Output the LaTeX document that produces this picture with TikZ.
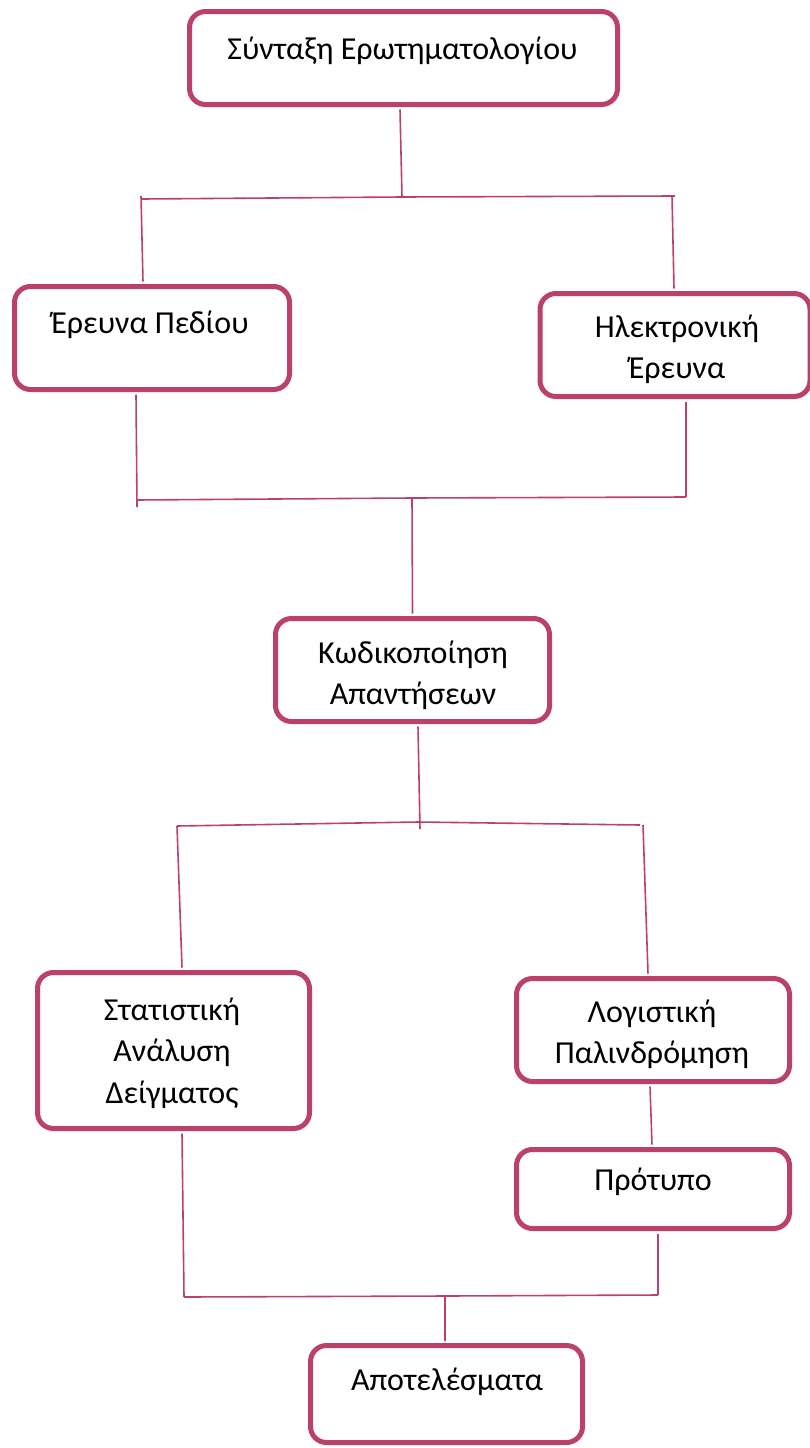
\documentclass[tikz,border=0pt]{standalone}
\usepackage{fontspec}
\setmainfont{Carlito}
\definecolor{mag}{RGB}{187,64,106}
\begin{document}
\begin{tikzpicture}[x=1pt,y=-1pt,
  box/.style={draw=mag, line width=5pt, rounded corners=16pt, fill=white, inner sep=0pt},
  lbl/.style={anchor=base, inner sep=0pt, font=\fontsize{32}{40}\selectfont},
  conn/.style={draw=mag, line width=1.6pt}]
\useasboundingbox (0,0) rectangle (810,1448);
% boxes
\node[box, minimum width=428pt, minimum height=93pt] (top) at (403.5,58) {};
\node[box, minimum width=275pt, minimum height=103pt] (pedio) at (152,338) {};
\node[box, minimum width=270pt, minimum height=103pt] (elek) at (675,345) {};
\node[box, minimum width=274pt, minimum height=103pt] (kod) at (412.5,670) {};
\node[box, minimum width=272pt, minimum height=156pt] (stat) at (173.5,1050.5) {};
\node[box, minimum width=273pt, minimum height=103pt] (logi) at (653,1030) {};
\node[box, minimum width=273pt, minimum height=79pt] (prot) at (653,1189) {};
\node[box, minimum width=272pt, minimum height=97pt] (apot) at (446.5,1394) {};
% texts
\node[lbl] (t1) at (402.5,59) {Σύνταξη Ερωτηματολογίου};
\node[lbl] (t2) at (150,333) {Έρευνα Πεδίου};
\node[lbl] (t3a) at (677,337) {Ηλεκτρονική};
\node[lbl] (t3b) at (677,378) {Έρευνα};
\node[lbl] (t4a) at (413,663) {Κωδικοποίηση};
\node[lbl] (t4b) at (413,704) {Απαντήσεων};
\node[lbl] (t5a) at (172,1020) {Στατιστική};
\node[lbl] (t5b) at (172,1061) {Ανάλυση};
\node[lbl] (t5c) at (172,1103) {Δείγματος};
\node[lbl] (t6a) at (652,1022) {Λογιστική};
\node[lbl] (t6b) at (652,1063) {Παλινδρόμηση};
\node[lbl] (t7) at (653,1190) {Πρότυπο};
\node[lbl] (t8) at (447,1390) {Αποτελέσματα};
% junction coordinates
\coordinate (j1) at (402,197);
\coordinate (l1) at (142,199);
\coordinate (r1) at (675,196);
\coordinate (l1t) at (141,196);
\coordinate (r1t) at (672,196);
\coordinate (j2) at (412,498);
\coordinate (l2) at (136,500);
\coordinate (l2b) at (137,507);
\coordinate (r2) at (686,497);
\coordinate (j3) at (418,822);
\coordinate (j3b) at (420,829);
\coordinate (l3) at (177,826);
\coordinate (r3) at (640,825);
\coordinate (r3t) at (643,825);
\coordinate (j4) at (445,1296);
\coordinate (l4) at (184,1297);
\coordinate (r4) at (658,1295);
% connectors
\draw[conn] ([xshift=-3.5pt,yshift=-2.5pt]top.south) -- (j1);
\draw[conn] (l1) -- (j1) -- (r1);
\draw[conn] (l1t) -- ([xshift=-9pt,yshift=2.5pt]pedio.north);
\draw[conn] (r1t) -- ([xshift=-1pt,yshift=2.5pt]elek.north);
\draw[conn] ([xshift=-16pt,yshift=-2.5pt]pedio.south) -- (l2b);
\draw[conn] (l2) -- (j2) -- (r2);
\draw[conn] ([xshift=11pt,yshift=-2.5pt]elek.south) -- (r2);
\draw[conn] (j2) -- ([yshift=2.5pt]kod.north);
\draw[conn] ([xshift=5.5pt,yshift=-2.5pt]kod.south) -- (j3b);
\draw[conn] (l3) -- (j3) -- (r3);
\draw[conn] (l3) -- ([xshift=8.5pt,yshift=2.5pt]stat.north);
\draw[conn] (r3t) -- ([xshift=-5pt,yshift=2.5pt]logi.north);
\draw[conn] ([xshift=-3pt,yshift=-2.5pt]logi.south) -- ([xshift=-1pt,yshift=2.5pt]prot.north);
\draw[conn] ([xshift=8.5pt,yshift=-2.5pt]stat.south) -- (l4);
\draw[conn] ([xshift=5pt,yshift=-2.5pt]prot.south) -- (r4);
\draw[conn] (l4) -- (j4) -- (r4);
\draw[conn] (j4) -- ([xshift=-1.5pt,yshift=2.5pt]apot.north);
\end{tikzpicture}
\end{document}
